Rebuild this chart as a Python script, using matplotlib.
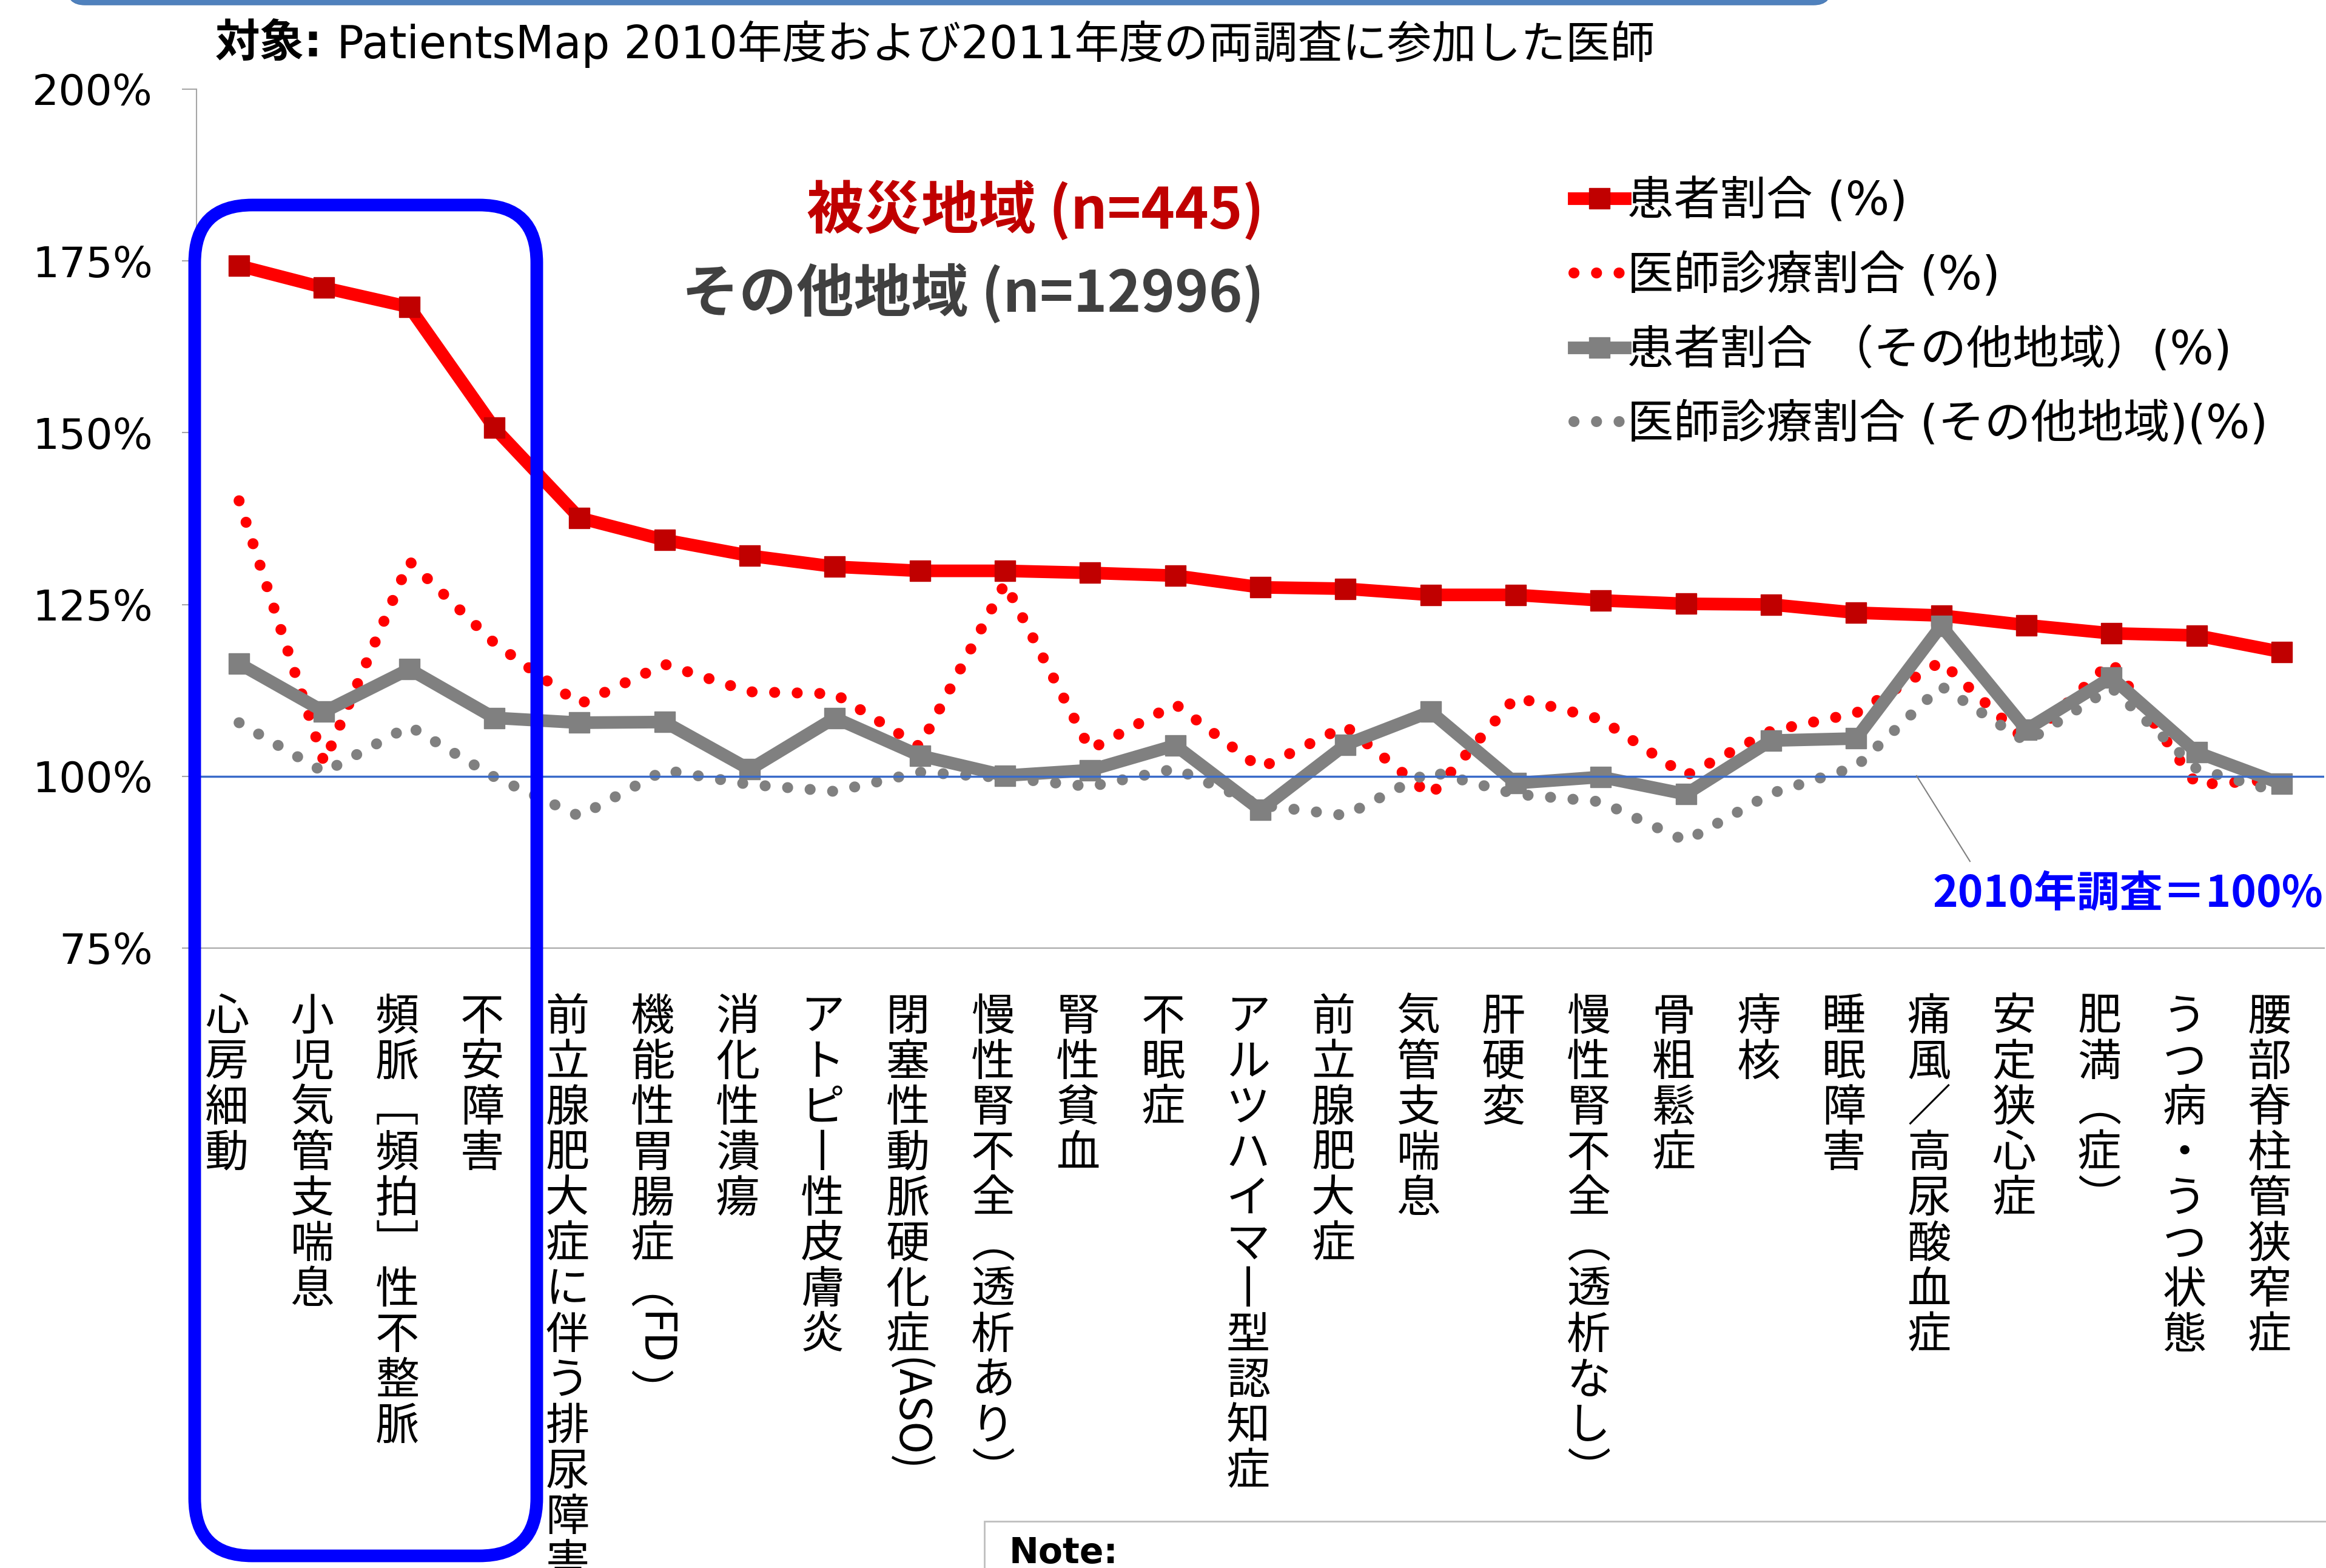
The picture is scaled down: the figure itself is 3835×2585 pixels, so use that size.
import numpy as np
import matplotlib
matplotlib.use("Agg")
import matplotlib.pyplot as plt
from matplotlib.patches import FancyBboxPatch, Rectangle
from matplotlib.transforms import IdentityTransform

W, H = 3835, 2585

# ---------------- data ----------------
categories = [
    "心房細動", "小児気管支喘息", "頻脈［頻拍］性不整脈", "不安障害",
    "前立腺肥大症に伴う排尿障害", "機能性胃腸症（FD）", "消化性潰瘍",
    "アトピー性皮膚炎", "閉塞性動脈硬化症(ASO)", "慢性腎不全（透析あり）",
    "腎性貧血", "不眠症", "アルツハイマー型認知症", "前立腺肥大症",
    "気管支喘息", "肝硬変", "慢性腎不全（透析なし）", "骨粗鬆症", "痔核",
    "睡眠障害", "痛風／高尿酸血症", "安定狭心症", "肥満（症）",
    "うつ病・うつ状態", "腰部脊柱管狭窄症",
]
patient_hit = [174.3, 171.1, 168.3, 150.7, 137.6, 134.4, 132.1, 130.5, 129.9, 129.9,
               129.6, 129.2, 127.5, 127.3, 126.4, 126.4, 125.6, 125.1, 125.0, 123.8,
               123.4, 122.0, 120.8, 120.5, 118.1]
doctor_hit = [140.1, 102.0, 131.3, 119.4, 110.5, 116.3, 112.3, 112.0, 104.3, 128.1,
              103.9, 110.5, 101.2, 107.3, 97.2, 111.5, 108.3, 100.1, 106.6, 109.2,
              116.7, 105.1, 116.7, 98.8, 99.5]
patient_other = [116.4, 109.4, 115.6, 108.5, 107.8, 107.9, 101.0, 108.5, 103.0, 100.1,
                 100.9, 104.5, 95.1, 104.6, 109.4, 99.0, 99.9, 97.4, 105.2, 105.5,
                 121.9, 106.8, 114.4, 103.5, 98.9]
doctor_other = [107.8, 100.6, 107.3, 99.9, 94.2, 100.9, 98.8, 97.8, 100.6, 99.8,
                98.5, 101.1, 95.8, 94.3, 100.7, 97.4, 96.3, 90.6, 97.5, 101.4,
                113.1, 105.0, 112.9, 101.1, 97.6]
yticks = [75, 100, 125, 150, 175, 200]
series_labels = ["患者割合 (%)", "医師診療割合 (%)",
                 "患者割合 （その他地域）(%)", "医師診療割合 (その他地域)(%)"]

plt.rcParams['font.family'] = ['DejaVu Sans', 'Noto Sans CJK JP']
CJK = ['Noto Sans CJK JP', 'DejaVu Sans']
PX = IdentityTransform()

fig = plt.figure(figsize=(W / 100, H / 100), dpi=100)
ax = fig.add_axes([324 / W, 1 - 1563 / H, (3832 - 324) / W, (1563 - 147) / H])

x = np.arange(len(categories))
dots = (0, (0.01, 2.05))
l1, = ax.plot(x, patient_hit, color='#FF0000', lw=15, marker='s', ms=24.5,
              mfc='#C00000', mec='#C00000', zorder=3, clip_on=False)
l2, = ax.plot(x, doctor_hit, color='#FF0000', lw=13, linestyle=dots,
              dash_capstyle='round', zorder=4)
l3, = ax.plot(x, patient_other, color='#808080', lw=15, marker='s', ms=24.5,
              mfc='#808080', mec='#808080', zorder=5)
l4, = ax.plot(x, doctor_other, color='#808080', lw=13, linestyle=dots,
              dash_capstyle='round', zorder=6)
ax.axhline(100, color='#3A6BC9', lw=2.5, zorder=10)

ax.set_xlim(-0.5, len(categories) - 0.5)
ax.set_ylim(75, 200)
ax.set_yticks(yticks)
ax.set_yticklabels([f"{v}%" for v in yticks], fontsize=50)
ax.tick_params(axis='y', length=17, width=1.5, color='#A6A6A6', pad=35)
ax.tick_params(axis='x', length=0, labelbottom=False)
for s in ['top', 'right']:
    ax.spines[s].set_visible(False)
for s in ['left', 'bottom']:
    ax.spines[s].set_color('#A6A6A6')
    ax.spines[s].set_linewidth(1.5)

leg = ax.legend([l1, l2, l3, l4], series_labels, loc='upper left',
                bbox_to_anchor=(2595 / W, 1 - 295 / H), bbox_transform=fig.transFigure,
                frameon=False, fontsize=55, handlelength=1.1, handletextpad=0.05,
                borderpad=0, borderaxespad=0, labelspacing=0.62, numpoints=1)

# ---------------- vertical category labels ----------------
renderer = fig.canvas.get_renderer()
fs = 52
em = fs * 100 / 72
step = 75
vert = {'（': '︵', '）': '︶', '［': '﹇', '］': '﹈', 'ー': '丨'}


def tokens(label):
    out, buf = [], ''
    for ch in label:
        if ch.isascii():
            buf += ch
            continue
        if buf:
            out.append((buf, True))
            buf = ''
        out.append((vert.get(ch, ch), False))
    if buf:
        out.append((buf, True))
    return out


for i, lab in enumerate(categories):
    px = ax.transData.transform((i, 100))[0] - 20
    top = H - 1634
    for tok, rot in tokens(lab):
        if rot:
            t = fig.text(px, top - 0.05 * em, tok, rotation=-90, ha='center', va='top',
                         fontsize=fs, family=CJK, transform=PX)
            top -= t.get_window_extent(renderer).height + 0.1 * em
        else:
            fig.text(px, top - 0.88 * em, tok, ha='center', va='baseline',
                     fontsize=fs, family=CJK, transform=PX)
            top -= step

# ---------------- annotations ----------------
t1 = fig.text(355, H - 73, "対象:", fontsize=53, fontweight='bold', va='center', transform=PX)
bb = t1.get_window_extent(renderer)
fig.text(bb.x1, H - 73, " PatientsMap 2010年度および2011年度の両調査に参加した医師",
         fontsize=53, va='center', transform=PX)

fig.text(2084, H - 347, "被災地域 (n=445)", fontsize=68, fontweight='bold',
         color='#C00000', ha='right', va='center', family=CJK, transform=PX)
fig.text(2084, H - 484, "その他地域 (n=12996)", fontsize=68, fontweight='bold',
         color='#404040', ha='right', va='center', family=CJK, transform=PX)

fig.text(3830, H - 1474, "2010年調査＝100%", fontsize=51, fontweight='bold',
         color='#0000FF', ha='right', va='center', family=CJK, transform=PX)
fig.add_artist(plt.Line2D([3160, 3248], [H - 1279, H - 1420], color='#808080',
                          lw=1.5, transform=PX))

# blue highlight box around the first four categories
fig.add_artist(FancyBboxPatch((321, 20), 885 - 321, 2247 - 20,
                              boxstyle='round,pad=0,rounding_size=95', fill=False,
                              edgecolor='#0000FF', lw=15, transform=PX, zorder=20))

# header bar remnant at the very top
fig.add_artist(FancyBboxPatch((110, H - 8), 3020 - 110, 120,
                              boxstyle='round,pad=0,rounding_size=30',
                              facecolor='#4F81BD', edgecolor='#4A7AB5', lw=1,
                              transform=PX))

# note box at the bottom
fig.add_artist(Rectangle((1623, -60), 2400, 2585 - 2508 + 60, facecolor='white',
                         edgecolor='#BFBFBF', lw=2, transform=PX))
fig.text(1664, H - 2532, "Note:", fontsize=42, fontweight='bold', va='top', transform=PX)

fig.savefig("out.png", dpi=100)
